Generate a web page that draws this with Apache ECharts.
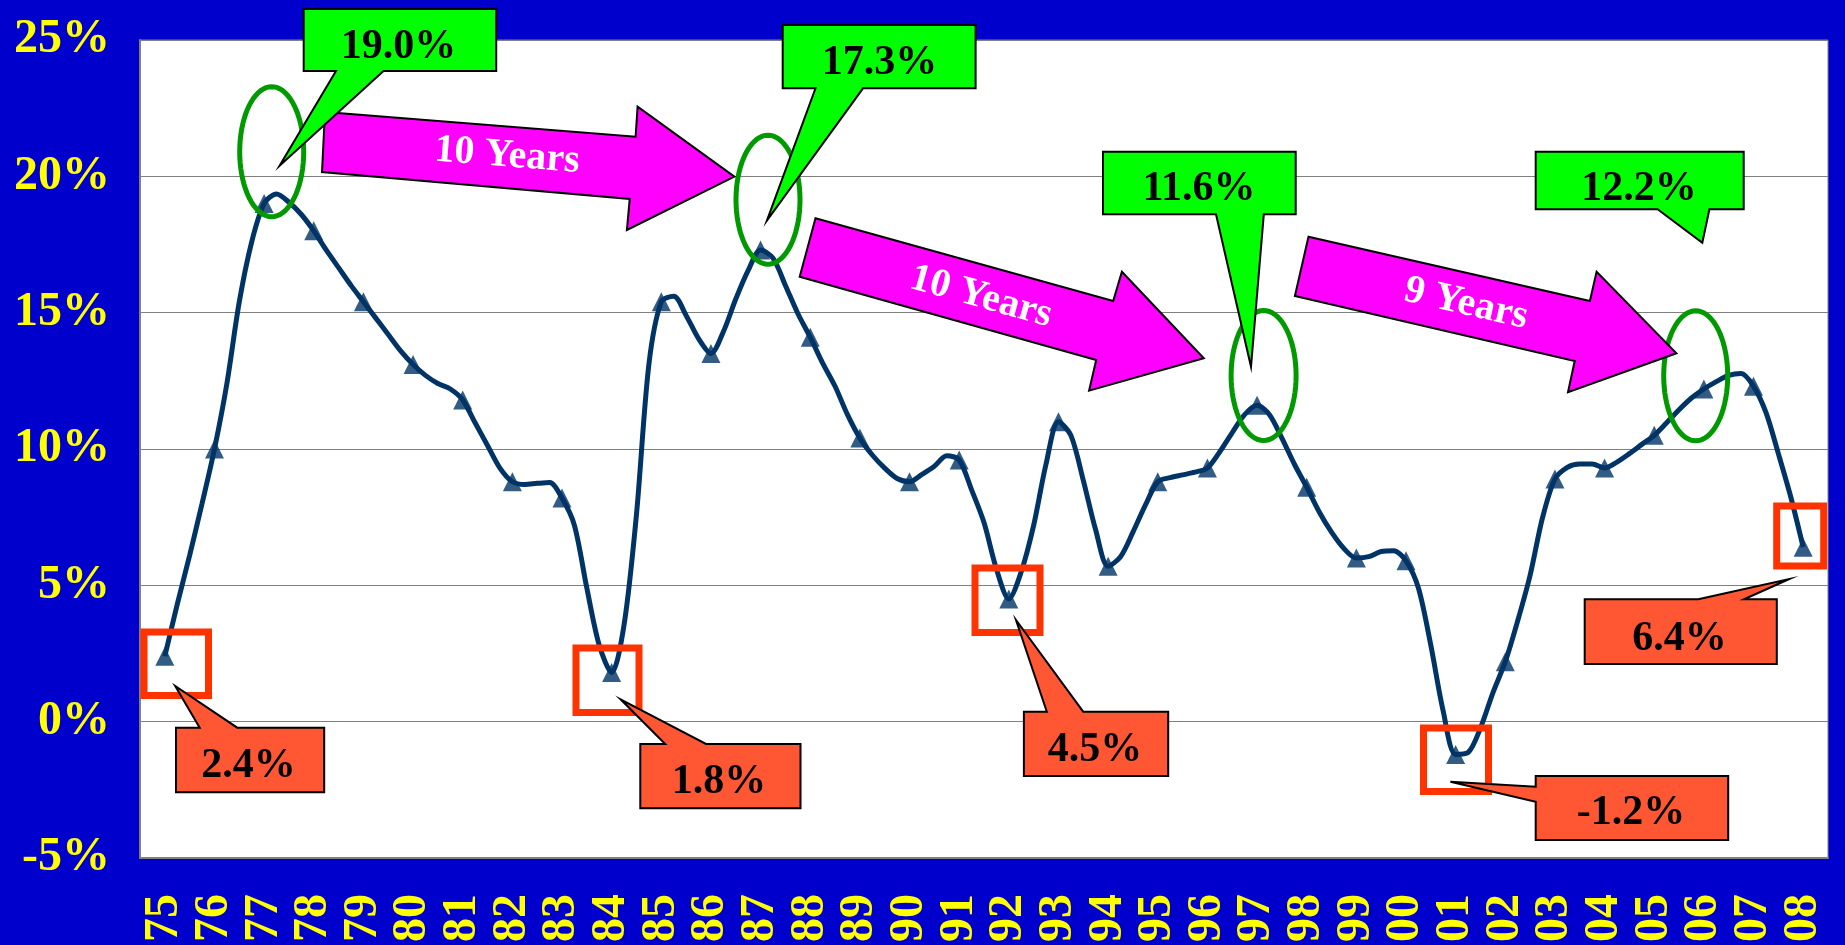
<!DOCTYPE html>
<html>
<head>
<meta charset="utf-8">
<script src="https://cdn.jsdelivr.net/npm/echarts@6/dist/echarts.min.js"></script>
<style>
html,body{margin:0;padding:0;background:#0000cc;}
#main{width:1845px;height:945px;}
</style>
</head>
<body>
<div id="main"></div>
<script>
// years on the axis
var years = ['75','76','77','78','79','80','81','82','83','84','85','86','87','88','89','90','91',
             '92','93','94','95','96','97','98','99','00','01','02','03','04','05','06','07','08'];
// yearly values (triangles), in %
var annualValues = [2.4, 10.0, 19.0, 18.0, 15.4, 13.1, 11.8, 8.8, 8.2, 1.8, 15.4, 13.5, 17.3, 14.1,
                    10.4, 8.8, 9.6, 4.5, 11.0, 5.7, 8.8, 9.3, 11.6, 8.6, 6.0, 5.9, -1.2, 2.2, 8.9,
                    9.3, 10.5, 12.2, 12.3, 6.4];
// quarterly readings between two yearly points (3 per gap)
var quarterValues = [
  [4.3, 6.1, 8.0], [12.4, 15.4, 17.6], [19.35, 19.05, 18.6], [17.3, 16.65, 16.0],
  [14.8, 14.2, 13.6], [12.7, 12.4, 12.2], [10.96, 10.13, 9.3], [8.7, 8.74, 8.77],
  [7.2, 4.9, 2.8], [3.55, 7.6, 13.1], [15.6, 14.9, 14.05], [14.3, 15.5, 16.55],
  [17.0, 16.0, 14.97], [13.15, 12.3, 11.26], [9.78, 9.3, 8.92], [9.07, 9.37, 9.75],
  [8.5, 7.3, 5.6], [5.5, 7.2, 9.45], [10.5, 8.85, 7.03], [6.05, 6.95, 7.94],
  [8.95, 9.05, 9.15], [9.9, 10.6, 11.26], [11.26, 10.4, 9.45], [7.7, 6.95, 6.35],
  [6.05, 6.24, 6.27], [4.9, 2.8, 0.38], [-1.13, -0.23, 1.06], [3.7, 5.37, 7.48],
  [9.33, 9.45, 9.45], [9.52, 9.83, 10.17], [10.96, 11.44, 11.87], [12.47, 12.7, 12.77],
  [11.34, 9.83, 8.24]
];
var yMin = -5, yMax = 25, yStep = 5;

var linePoints = [];
for (var i = 0; i < years.length; i++) {
  linePoints.push([i, annualValues[i]]);
  if (i < quarterValues.length) {
    for (var q = 0; q < 3; q++) linePoints.push([i + (q + 1) / 4, quarterValues[i][q]]);
  }
}

var serif = '"Liberation Serif", "Times New Roman", serif';
var LINE = '#003366';

function calloutShape(points, fill) {
  return {type: 'polygon', z: 100, shape: {points: points},
          style: {fill: fill, stroke: '#000', lineWidth: 2}};
}
function label(text, x, y, color, size, rot) {
  return {type: 'text', z: 101, x: x, y: y, rotation: rot || 0,
          style: {text: text, x: 0, y: 0, fill: color, font: 'bold ' + size + 'px ' + serif,
                  align: 'center', verticalAlign: 'middle', textAlign: 'center', textVerticalAlign: 'middle'}};
}
function ring(cx, cy, rx, ry) {
  var pts = [];
  for (var k = 0; k < 72; k++) {
    var a = k / 72 * Math.PI * 2;
    pts.push([cx + rx * Math.cos(a), cy + ry * Math.sin(a)]);
  }
  return {type: 'polygon', z: 99, shape: {points: pts},
          style: {fill: 'none', stroke: '#009900', lineWidth: 5}};
}
function box(x, y, w, h) {
  return {type: 'rect', z: 99, shape: {x: x, y: y, width: w, height: h},
          style: {fill: 'none', stroke: '#ff3300', lineWidth: 7}};
}

var GREEN = '#00ff00', ORANGE = '#ff5733', MAGENTA = '#ff00ff';
var deco = [
  // magenta arrows
  calloutShape([[325,112],[635.6,136.7],[637.6,106.7],[734.4,176.7],[626.9,230],[629.7,199],[322,172]], MAGENTA),
  label('10 Years', 507, 156, '#fff', 40, -0.0794),
  calloutShape([[815.5,218.3],[1113.2,301],[1121.9,271.7],[1203.8,358.3],[1089.1,390.7],[1096.2,360],[799.7,276.7]], MAGENTA),
  label('10 Years', 981, 297, '#fff', 40, -0.2705),
  calloutShape([[1308.5,236.7],[1589.9,301],[1596.6,271.7],[1676.4,353.3],[1568,392.3],[1574.7,361],[1294.9,296]], MAGENTA),
  label('9 Years', 1466, 304, '#fff', 40, -0.225),
  // peaks
  ring(271.7, 151.7, 32, 65), ring(768, 199.7, 32, 64.5), ring(1263.6, 375.5, 32.5, 65), ring(1695.7, 375.8, 32, 65),
  calloutShape([[303.7,9],[496.2,9],[496.2,71],[383.5,71],[279.6,165.7],[336,71],[303.7,71]], GREEN),
  label('19.0%', 398.5, 46.7, '#000', 42),
  calloutShape([[782.7,25],[975.6,25],[975.6,88.3],[863,88.3],[766.9,220.7],[815.5,88.3],[782.7,88.3]], GREEN),
  label('17.3%', 879.4, 62.8, '#000', 42),
  calloutShape([[1103,151.7],[1295.7,151.7],[1295.7,214.3],[1263.8,214.3],[1251,366.7],[1216,214.3],[1103,214.3]], GREEN),
  label('11.6%', 1199, 189.4, '#000', 42),
  calloutShape([[1535.7,151.7],[1743.7,151.7],[1743.7,209.3],[1709.4,209.3],[1702.3,242.7],[1657.6,209.3],[1535.7,209.3]], GREEN),
  label('12.2%', 1639, 189.5, '#000', 42),
  // troughs
  box(144, 632, 64.5, 63.5), box(576, 648, 63, 64.5), box(975, 568, 65, 64.5),
  box(1423.5, 728, 65, 63.5), box(1776.7, 506, 47, 60),
  calloutShape([[176,727.7],[199.7,727.7],[175.2,686],[237.2,727.7],[324.2,727.7],[324.2,792.3],[176,792.3]], ORANGE),
  label('2.4%', 248.5, 765.8, '#000', 42),
  calloutShape([[640.3,744],[665.2,744],[620.6,699.3],[706,744],[800.5,744],[800.5,808.3],[640.3,808.3]], ORANGE),
  label('1.8%', 719, 781.7, '#000', 42),
  calloutShape([[1023.9,711.7],[1046.8,711.7],[1016,620],[1083.2,711.7],[1168.2,711.7],[1168.2,776],[1023.9,776]], ORANGE),
  label('4.5%', 1095, 750, '#000', 42),
  calloutShape([[1535.7,776],[1728.2,776],[1728.2,840],[1535.7,840],[1535.7,801.7],[1450.4,781.7],[1535.7,786.7]], ORANGE),
  label('-1.2%', 1631, 813.3, '#000', 42),
  calloutShape([[1584.7,599.3],[1698.3,599.3],[1789.2,579],[1744,599.3],[1776.8,599.3],[1776.8,664],[1584.7,664]], ORANGE),
  label('6.4%', 1679.5, 638.7, '#000', 42)
];

var chart = echarts.init(document.getElementById('main'));
chart.setOption({
  backgroundColor: '#0000cc',
  animation: false,
  grid: {left: 140, right: 17, top: 40, bottom: 86, show: true, backgroundColor: '#ffffff',
         borderColor: '#808080', borderWidth: 1},
  xAxis: [{
    type: 'category', data: years, boundaryGap: true,
    axisLine: {onZero: false, lineStyle: {color: '#808080', width: 2}},
    axisTick: {inside: true, length: 13, interval: 0, lineStyle: {color: '#808080', width: 1}},
    axisLabel: {rotate: 90, interval: 0, margin: 36, color: '#ffff00', fontFamily: serif,
                fontWeight: 'bold', fontSize: 48},
    splitLine: {show: false}
  }, {
    type: 'value', min: -0.5, max: years.length - 0.5, show: false
  }],
  yAxis: {
    type: 'value', min: yMin, max: yMax, interval: yStep,
    axisLine: {show: true, onZero: false, lineStyle: {color: '#808080', width: 2}},
    axisTick: {show: true, inside: true, length: 10, lineStyle: {color: '#808080'}},
    axisLabel: {formatter: '{value}%', margin: 30, color: '#ffff00', fontFamily: serif,
                fontWeight: 'bold', fontSize: 48},
    splitLine: {lineStyle: {color: '#808080', width: 1}}
  },
  series: [{
    type: 'line', xAxisIndex: 1, data: linePoints, smooth: 0.3, showSymbol: false,
    lineStyle: {color: LINE, width: 5}, z: 2
  }, {
    type: 'scatter', xAxisIndex: 0, data: annualValues, symbol: 'triangle', symbolSize: 19,
    itemStyle: {color: LINE}, z: 3
  }],
  graphic: deco
});
</script>
</body>
</html>
